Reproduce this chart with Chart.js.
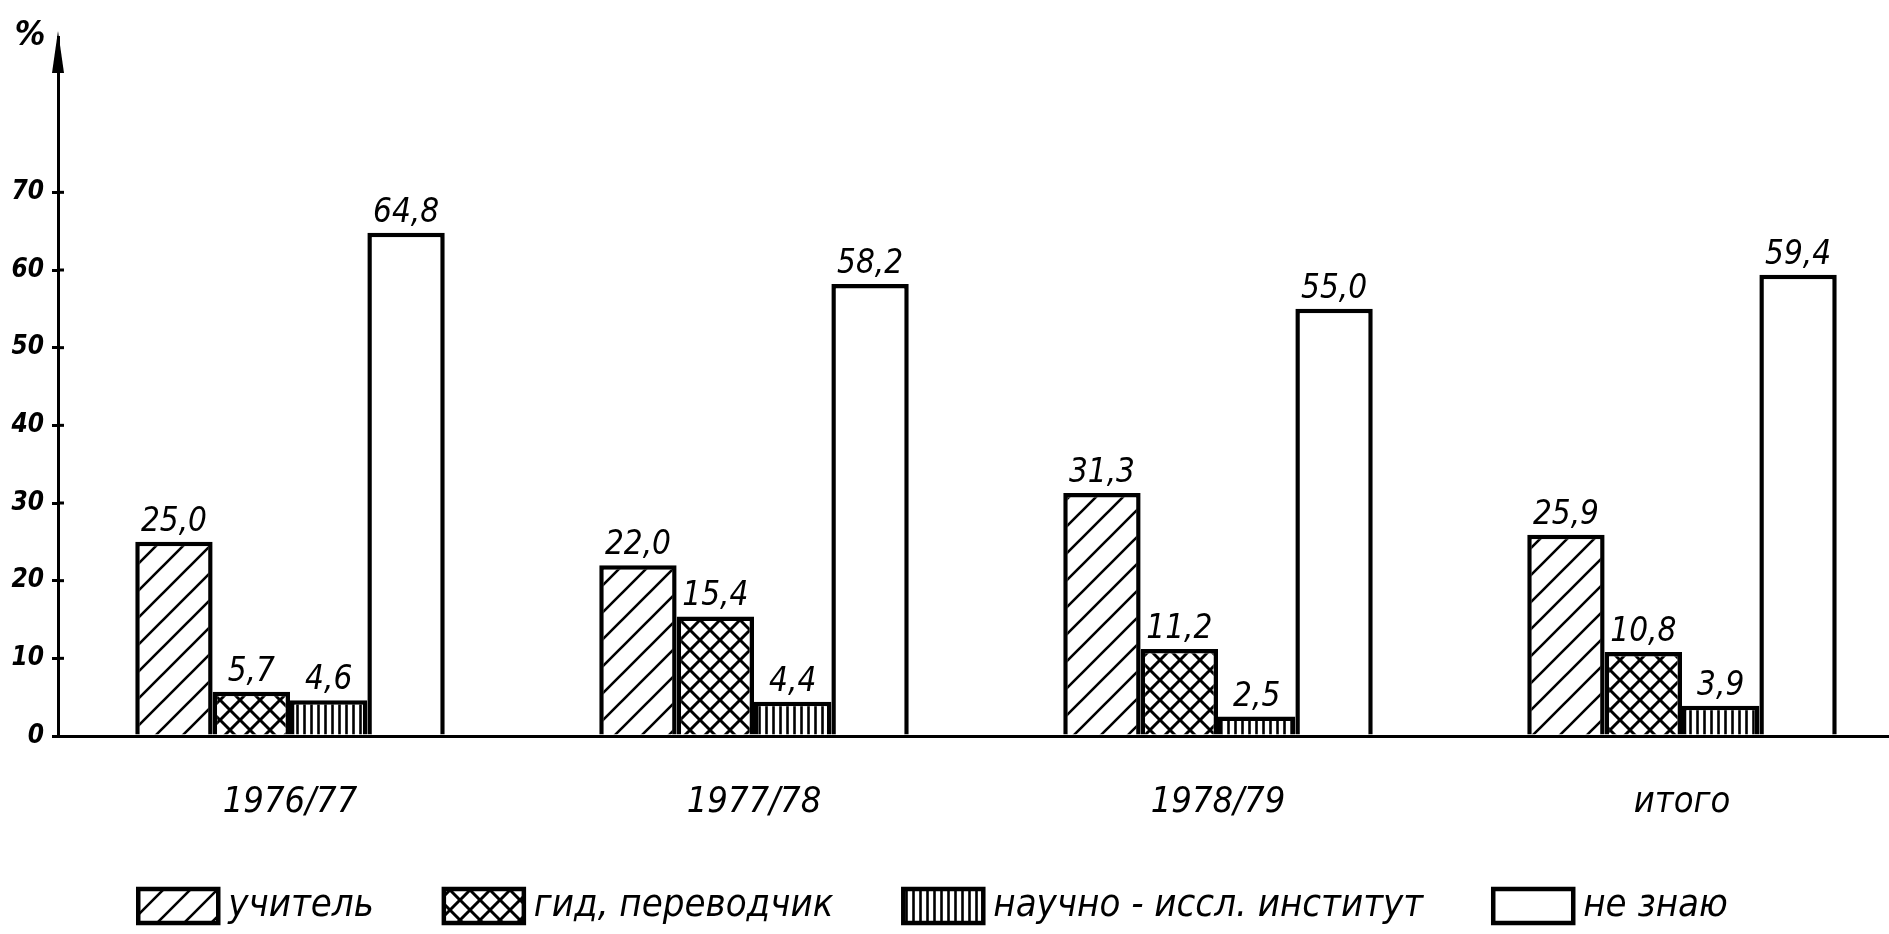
<!DOCTYPE html>
<html>
<head>
<meta charset="utf-8">
<script src="https://cdn.jsdelivr.net/npm/chart.js@4.4.1/dist/chart.umd.min.js"></script>
<style>
  html, body { margin: 0; padding: 0; background: #fff; overflow: hidden; }
  #wrap { width: 1916px; height: 934px; }
</style>
</head>
<body>
<div id="wrap"><canvas id="chart" width="1916" height="934"></canvas></div>
<script>
const categories = ['1976/77', '1977/78', '1978/79', 'итого'];
const teacher = [25.0, 22.0, 31.3, 25.9];
const guide = [5.7, 15.4, 11.2, 10.8];
const research = [4.6, 4.4, 2.5, 3.9];
const dontKnow = [64.8, 58.2, 55.0, 59.4];
const seriesNames = ['учитель', 'гид, переводчик', 'научно - иссл. институт', 'не знаю'];
const yTicks = [0, 10, 20, 30, 40, 50, 60, 70];

const FONT = "'Liberation Sans Narrow', 'DejaVu Sans Condensed', 'Liberation Sans', sans-serif";

// hatch fills, drawn on small tiles
function makePattern(kind) {
  const c = document.createElement('canvas');
  const g = c.getContext('2d');
  g.strokeStyle = '#000';
  if (kind === 'slash') {
    const s = 27;
    c.width = s; c.height = s;
    g.fillStyle = '#fff'; g.fillRect(0, 0, s, s);
    g.lineWidth = 2.6;
    g.beginPath();
    g.moveTo(-2, s + 2); g.lineTo(s + 2, -2);
    g.moveTo(-2, 2); g.lineTo(2, -2);
    g.moveTo(s - 2, s + 2); g.lineTo(s + 2, s - 2);
    g.stroke();
  } else if (kind === 'cross') {
    const s = 20;
    c.width = s; c.height = s;
    g.fillStyle = '#fff'; g.fillRect(0, 0, s, s);
    g.lineWidth = 3;
    g.beginPath();
    g.moveTo(-2, s + 2); g.lineTo(s + 2, -2);
    g.moveTo(-2, -2); g.lineTo(s + 2, s + 2);
    g.stroke();
  } else if (kind === 'vert') {
    const s = 7;
    c.width = s; c.height = 10;
    g.fillStyle = '#fff'; g.fillRect(0, 0, s, 10);
    g.lineWidth = 2.6;
    g.beginPath(); g.moveTo(3.5, 0); g.lineTo(3.5, 10); g.stroke();
  } else {
    c.width = 4; c.height = 4;
    g.fillStyle = '#fff'; g.fillRect(0, 0, 4, 4);
  }
  return document.getElementById('chart').getContext('2d').createPattern(c, 'repeat');
}

const fills = [makePattern('slash'), makePattern('cross'), makePattern('vert'), makePattern('none')];
const values = [teacher, guide, research, dontKnow];

const fmt = v => v.toFixed(1).replace('.', ',');

const decor = {
  id: 'decor',
  afterDatasetsDraw(chart) {
    const ctx = chart.ctx;
    ctx.save();
    ctx.fillStyle = '#000';
    ctx.font = 'italic 33px ' + FONT;
    ctx.textAlign = 'center';
    ctx.textBaseline = 'bottom';
    chart.data.datasets.forEach((ds, i) => {
      chart.getDatasetMeta(i).data.forEach((bar, j) => {
        ctx.fillText(fmt(ds.data[j]), bar.x, bar.y - 3);
      });
    });
    ctx.restore();
  },
  afterDraw(chart) {
    const { ctx, chartArea, scales: { y } } = chart;
    const ax = chartArea.left;
    ctx.save();
    ctx.strokeStyle = '#000';
    ctx.fillStyle = '#000';
    ctx.lineWidth = 3;
    // tick marks cross the axis
    yTicks.slice(1).forEach(v => {
      const py = y.getPixelForValue(v);
      ctx.beginPath(); ctx.moveTo(ax, py); ctx.lineTo(ax + 6, py); ctx.stroke();
    });
    // arrow head on top of y axis
    ctx.beginPath();
    ctx.moveTo(ax, chartArea.top - 6);
    ctx.lineTo(ax - 6, chartArea.top + 36);
    ctx.lineTo(ax + 6, chartArea.top + 36);
    ctx.closePath();
    ctx.fill();
    ctx.font = 'italic bold 34px ' + FONT;
    ctx.textAlign = 'center';
    ctx.textBaseline = 'middle';
    ctx.fillText('%', 30, 36);

    // legend row
    ctx.font = 'italic 38px ' + FONT;
    ctx.textAlign = 'left';
    const boxW = 80, boxH = 34, gapText = 10, gap = 70, cy = 906;
    const widths = seriesNames.map(t => boxW + gapText + ctx.measureText(t).width);
    const total = widths.reduce((a, b) => a + b, 0) + gap * (widths.length - 1);
    let x = 933 - total / 2;
    seriesNames.forEach((t, i) => {
      ctx.fillStyle = fills[i];
      ctx.fillRect(x, cy - boxH / 2, boxW, boxH);
      ctx.lineWidth = 4.5;
      ctx.strokeRect(x, cy - boxH / 2, boxW, boxH);
      ctx.fillStyle = '#000';
      ctx.fillText(t, x + boxW + gapText, cy);
      x += widths[i] + gap;
    });
    ctx.restore();
  }
};

new Chart(document.getElementById('chart'), {
  type: 'bar',
  data: {
    labels: categories,
    datasets: values.map((d, i) => ({
      label: seriesNames[i],
      data: d,
      backgroundColor: fills[i],
      borderColor: '#000',
      borderWidth: 4.5,
      categoryPercentage: 0.667,
      barPercentage: 1.0
    }))
  },
  options: {
    responsive: false,
    animation: false,
    layout: { padding: { top: 37, right: 2, left: 0, bottom: 0 } },
    plugins: { legend: { display: false }, tooltip: { enabled: false } },
    scales: {
      x: {
        grid: { display: false, drawTicks: false },
        border: { display: true, color: '#000', width: 3 },
        ticks: { color: '#000', padding: 45, font: { family: FONT, size: 36, style: 'italic' } },
        afterFit: s => { s.height = 198; }
      },
      y: {
        min: 0,
        max: 90,
        afterBuildTicks: s => { s.ticks = yTicks.map(v => ({ value: v })); },
        grid: { display: true, drawOnChartArea: false, drawTicks: true, tickLength: 6, color: '#000', lineWidth: 3 },
        border: { display: true, color: '#000', width: 3 },
        ticks: { color: '#000', padding: 8, font: { family: FONT, size: 26, style: 'italic', weight: 'bold' } },
        afterFit: s => { s.width = 58; }
      }
    }
  },
  plugins: [decor]
});
</script>
</body>
</html>
